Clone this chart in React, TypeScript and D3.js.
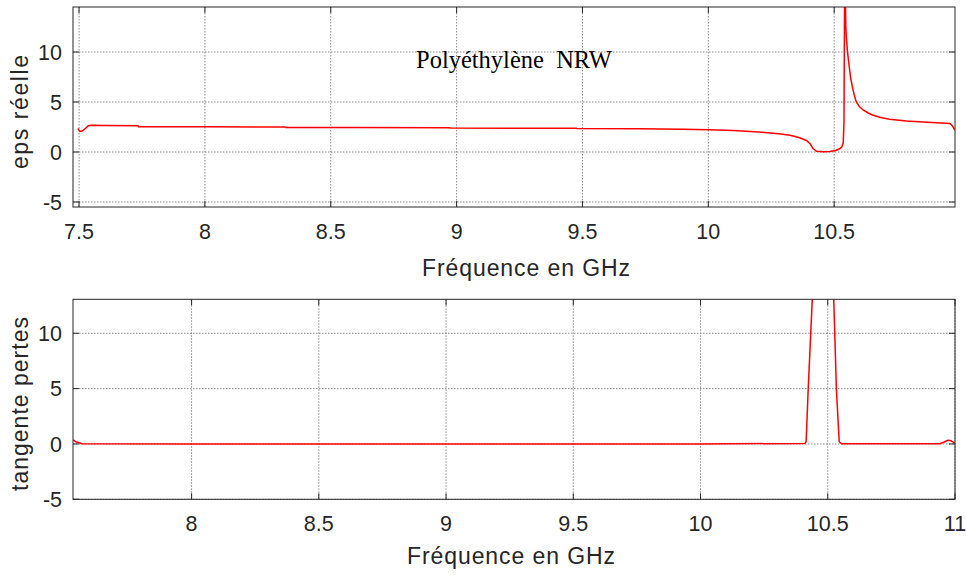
import React, { useEffect, useRef } from "react";
import * as d3 from "d3";

// partie réelle de eps (panneau du haut)
const epsFreq = [
  7.495, 7.504, 7.512, 7.525, 7.537, 7.55, 7.6, 7.734, 7.736, 8.0, 8.318, 8.32,
  8.6, 8.973, 8.975, 9.3, 9.476, 9.478, 9.728, 9.9, 10.0, 10.1, 10.2, 10.28,
  10.324, 10.36, 10.39, 10.405, 10.416, 10.43, 10.46, 10.483, 10.505, 10.52,
  10.53, 10.536, 10.539, 10.541, 10.543, 10.545, 10.546, 10.548, 10.553, 10.56,
  10.566, 10.575, 10.582, 10.588, 10.6, 10.615, 10.635, 10.655, 10.685, 10.72,
  10.787, 10.853, 10.96, 10.97, 10.98,
];
const epsReal = [
  2.35, 2.05, 2.1, 2.35, 2.62, 2.68, 2.66, 2.63, 2.53, 2.52, 2.5, 2.46, 2.45,
  2.43, 2.39, 2.38, 2.37, 2.34, 2.32, 2.27, 2.22, 2.15, 2.0, 1.82, 1.67, 1.45,
  1.15, 0.8, 0.35, 0.07, 0.02, 0.05, 0.15, 0.3, 0.5, 0.9, 3, 14, 22, 14.5,
  12.8, 11.6, 10.0, 8.5, 7.3, 6.2, 5.5, 5.0, 4.55, 4.2, 3.9, 3.67, 3.45, 3.27,
  3.1, 3.0, 2.85, 2.6, 2.17,
];

// tangente de pertes (panneau du bas)
const tanFreq = [
  7.534, 7.545, 7.57, 8.0, 9.0, 10.0, 10.41, 10.415, 10.423, 10.44, 10.45,
  10.49, 10.52, 10.523, 10.534, 10.545, 10.554, 10.94, 10.955, 10.972, 10.985,
  10.99, 11.0,
];
const tanPertes = [
  0.36, 0.2, 0.02, 0.0, 0.0, 0.0, 0.05, 0.2, 4.9, 13.5, 25, 35, 25, 13.5, 4.9,
  0.2, 0.02, 0.02, 0.15, 0.33, 0.3, 0.2, 0.05,
];

const xTicksTop = [7.5, 8, 8.5, 9, 9.5, 10, 10.5];
const xTicksBottom = [8, 8.5, 9, 9.5, 10, 10.5, 11];
const yTicks = [-5, 0, 5, 10];

const axisColor = "#262626";
const font = "Liberation Sans, Arial, sans-serif";

interface Panel {
  id: string;
  top: number;
  bottom: number;
  xDomain: [number, number];
  yDomain: [number, number];
  xTicks: number[];
  xs: number[];
  ys: number[];
  yLabel: string;
  yLabelY: number;
  yLabelLen: number;
  xLabelX: number;
  xLabelY: number;
}

const left = 73;
const right = 955;

const panels: Panel[] = [
  {
    id: "top",
    top: 7,
    bottom: 207,
    xDomain: [7.476, 10.98],
    yDomain: [-5.5, 14.5],
    xTicks: xTicksTop,
    xs: epsFreq,
    ys: epsReal,
    yLabel: "eps réelle",
    yLabelY: 112,
    yLabelLen: 114,
    xLabelX: 526,
    xLabelY: 276,
  },
  {
    id: "bottom",
    top: 299.3,
    bottom: 499.3,
    xDomain: [7.534, 11],
    yDomain: [-5, 13.07],
    xTicks: xTicksBottom,
    xs: tanFreq,
    ys: tanPertes,
    yLabel: "tangente pertes",
    yLabelY: 404,
    yLabelLen: 174,
    xLabelX: 511,
    xLabelY: 564,
  },
];

const App: React.FC = () => {
  const ref = useRef<SVGSVGElement>(null);

  useEffect(() => {
    const svg = d3.select(ref.current);
    svg.selectAll("*").remove();

    panels.forEach((p) => {
      const x = d3.scaleLinear().domain(p.xDomain).range([left, right]);
      const y = d3.scaleLinear().domain(p.yDomain).range([p.bottom, p.top]);
      const g = svg.append("g");

      g.append("clipPath")
        .attr("id", "clip-" + p.id)
        .append("rect")
        .attr("x", left)
        .attr("y", p.top)
        .attr("width", right - left)
        .attr("height", p.bottom - p.top);

      // grille
      g.selectAll(".gx")
        .data(p.xTicks)
        .enter()
        .append("line")
        .attr("x1", (d) => x(d))
        .attr("x2", (d) => x(d))
        .attr("y1", p.top)
        .attr("y2", p.bottom)
        .attr("stroke", "#8a8a8a")
        .attr("stroke-dasharray", "1.5,1.5");
      g.selectAll(".gy")
        .data(yTicks)
        .enter()
        .append("line")
        .attr("x1", left)
        .attr("x2", right)
        .attr("y1", (d) => y(d))
        .attr("y2", (d) => y(d))
        .attr("stroke", "#8a8a8a")
        .attr("stroke-dasharray", "1.5,1.5");

      // courbe
      const line = d3
        .line<number>()
        .x((d, i) => x(p.xs[i]))
        .y((d) => y(d));
      g.append("path")
        .datum(p.ys)
        .attr("d", line)
        .attr("fill", "none")
        .attr("stroke", "#ff0000")
        .attr("stroke-width", 1.5)
        .attr("clip-path", `url(#clip-${p.id})`);

      // cadre
      g.append("rect")
        .attr("x", left)
        .attr("y", p.top)
        .attr("width", right - left)
        .attr("height", p.bottom - p.top)
        .attr("fill", "none")
        .attr("stroke", axisColor)
        .attr("stroke-width", 1);

      // graduations (intérieures, 4 côtés)
      const tl = 6;
      p.xTicks.forEach((t) => {
        g.append("line")
          .attr("x1", x(t)).attr("x2", x(t))
          .attr("y1", p.bottom).attr("y2", p.bottom - tl)
          .attr("stroke", axisColor);
        g.append("line")
          .attr("x1", x(t)).attr("x2", x(t))
          .attr("y1", p.top).attr("y2", p.top + tl)
          .attr("stroke", axisColor);
        g.append("text")
          .attr("x", x(t))
          .attr("y", p.bottom + 32)
          .attr("text-anchor", "middle")
          .style("font-family", font)
          .style("font-size", "21.5px")
          .attr("fill", axisColor)
          .text(String(t));
      });
      yTicks.forEach((t) => {
        g.append("line")
          .attr("x1", left).attr("x2", left + tl)
          .attr("y1", y(t)).attr("y2", y(t))
          .attr("stroke", axisColor);
        g.append("line")
          .attr("x1", right).attr("x2", right - tl)
          .attr("y1", y(t)).attr("y2", y(t))
          .attr("stroke", axisColor);
        g.append("text")
          .attr("x", left - 11)
          .attr("y", y(t))
          .attr("dy", "0.36em")
          .attr("text-anchor", "end")
          .style("font-family", font)
          .style("font-size", "21.5px")
          .attr("fill", axisColor)
          .text(String(t));
      });

      // titres des axes
      g.append("text")
        .attr("x", p.xLabelX)
        .attr("y", p.xLabelY)
        .attr("text-anchor", "middle")
        .attr("textLength", 208)
        .style("font-family", font)
        .style("font-size", "23px")
        .attr("fill", axisColor)
        .text("Fréquence en GHz");
      g.append("text")
        .attr("transform", `translate(28,${p.yLabelY}) rotate(-90)`)
        .attr("text-anchor", "middle")
        .attr("textLength", p.yLabelLen)
        .style("font-family", font)
        .style("font-size", "23px")
        .attr("fill", axisColor)
        .text(p.yLabel);
    });

    svg
      .append("text")
      .attr("x", 416)
      .attr("y", 68)
      .attr("xml:space", "preserve")
      .style("font-family", "Liberation Serif, Times New Roman, serif")
      .style("font-size", "24.5px")
      .style("white-space", "pre")
      .attr("fill", "#000")
      .text("Polyéthylène  NRW");
  }, []);

  return (
    <svg
      ref={ref}
      width={966}
      height={575}
      style={{ position: "absolute", left: 0, top: 0, background: "#fff" }}
    />
  );
};

export default App;
